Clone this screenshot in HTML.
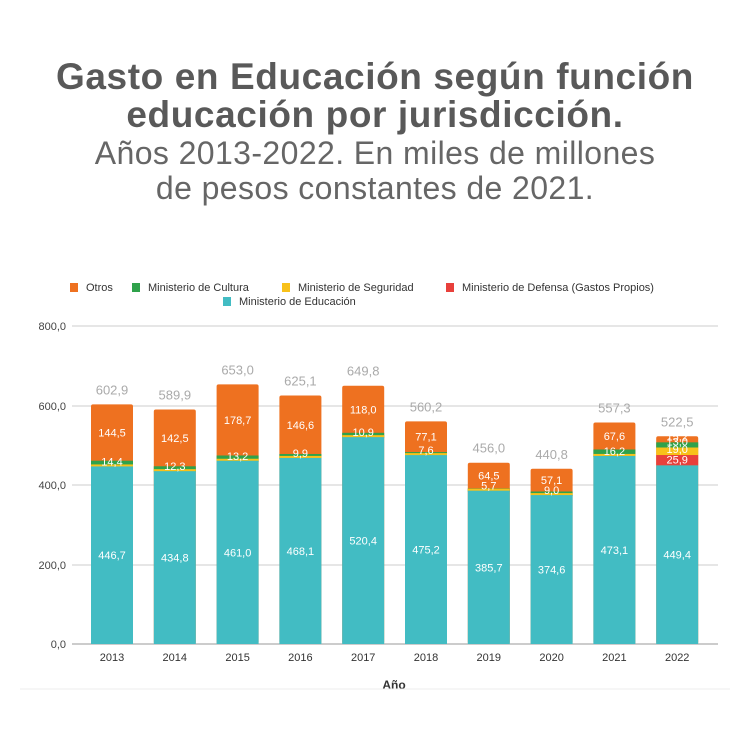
<!DOCTYPE html>
<html><head><meta charset="utf-8"><style>
body{margin:0;background:#fff;}
.t{position:absolute;left:0;width:750px;text-align:center;font-family:"Liberation Sans",sans-serif;color:#555;}
</style></head><body>
<div style="position:relative;width:750px;height:750px;overflow:hidden">
<div class="t" style="top:58px;font-size:37px;font-weight:bold;line-height:38px;letter-spacing:0.6px;color:#595959">Gasto en Educación según función<br>educación por jurisdicción.</div>
<div class="t" style="top:136px;font-size:32px;line-height:35px;letter-spacing:0.4px;color:#666">Años 2013-2022. En miles de millones<br>de pesos constantes de 2021.</div>
<svg width="750" height="750" style="position:absolute;left:0;top:0" font-family="Liberation Sans, sans-serif">
<g font-size="11" fill="#333">
<rect x="70" y="283" width="8" height="9" fill="#ee7120"/><text x="86" y="291">Otros</text>
<rect x="132" y="283" width="8" height="9" fill="#2fa24b"/><text x="148" y="291">Ministerio de Cultura</text>
<rect x="282" y="283" width="8" height="9" fill="#f8c11a"/><text x="298" y="291">Ministerio de Seguridad</text>
<rect x="446" y="283" width="8" height="9" fill="#e8403b"/><text x="462" y="291">Ministerio de Defensa (Gastos Propios)</text>
<rect x="223" y="297" width="8" height="9" fill="#42bcc3"/><text x="239" y="305">Ministerio de Educación</text>
</g>
<g stroke="#ddd" stroke-width="1.5">
<line x1="72" y1="326" x2="718" y2="326"/><line x1="72" y1="406" x2="718" y2="406"/>
<line x1="72" y1="485" x2="718" y2="485"/><line x1="72" y1="565" x2="718" y2="565"/>
<line x1="72" y1="644" x2="718" y2="644" stroke="#bbb"/>
</g>
<g font-size="11" fill="#444" text-anchor="end">
<text x="66" y="330">800,0</text><text x="66" y="410">600,0</text><text x="66" y="489">400,0</text><text x="66" y="569">200,0</text><text x="66" y="648">0,0</text>
</g>
<g id="bars"></g>
<text x="394" y="689" font-size="12" font-weight="bold" text-anchor="middle" fill="#333">Año</text>
<line x1="20" y1="689" x2="730" y2="689" stroke="#eee"/>
</svg>
<script>
var d=[[2013,446.7,14.4,144.5,602.9],[2014,434.8,12.3,142.5,589.9],[2015,461.0,13.2,178.7,653.0],[2016,468.1,9.9,146.6,625.1],[2017,520.4,10.9,118.0,649.8],[2018,475.2,7.6,77.1,560.2],[2019,385.7,5.7,64.5,456.0],[2020,374.6,9.0,57.1,440.8],[2021,473.1,16.2,67.6,557.3],[2022,449.4,13.0,15.2,522.5]];
var s=318/800,y0=644,h='';
function Y(v){return y0-v*s;}
function lab(x,y,t,c){return '<text x="'+x+'" y="'+y+'" font-size="11" fill="'+c+'" text-anchor="middle">'+t+'</text>';}
d.forEach(function(r,i){
var cx=112+i*62.8,x=cx-21,w=42;
h+='<text x="'+cx+'" y="661" font-size="11" fill="#333" text-anchor="middle">'+r[0]+'</text>';
h+='<text x="'+cx+'" y="'+(Y(r[4])-10)+'" font-size="13" fill="#aaa" text-anchor="middle">'+r[4].toFixed(1).replace('.',',')+'</text>';
if(r[0]==2022){
var a=Y(449.4),b=Y(475.3),c=Y(494.3),e=Y(507.3),f=Y(522.5);
h+='<rect x="'+x+'" y="'+f+'" width="'+w+'" height="'+(y0-f)+'" rx="2" fill="#ee7120"/>';
h+='<rect x="'+x+'" y="'+e+'" width="'+w+'" height="'+(c-e)+'" fill="#2fa24b"/>';
h+='<rect x="'+x+'" y="'+c+'" width="'+w+'" height="'+(b-c)+'" fill="#f8c11a"/>';
h+='<rect x="'+x+'" y="'+b+'" width="'+w+'" height="'+(a-b)+'" fill="#e8403b"/>';
h+='<rect x="'+x+'" y="'+a+'" width="'+w+'" height="'+(y0-a)+'" fill="#42bcc3"/>';
h+=lab(cx,a-2,'25,9','#fff')+lab(cx,b-2,'19,0','#fff')+lab(cx,c-2,'13,0','#fff')+lab(cx,e-2,'15,2','#fff');
}else{
var te=Y(r[1]),tc=Y(r[1]+r[2]),tt=Y(r[4]);
h+='<rect x="'+x+'" y="'+tt+'" width="'+w+'" height="'+(y0-tt)+'" rx="2" fill="#ee7120"/>';
h+='<rect x="'+x+'" y="'+tc+'" width="'+w+'" height="'+(te-tc+1)+'" fill="#2fa24b"/>';
h+='<rect x="'+x+'" y="'+(te-2)+'" width="'+w+'" height="3" fill="#f8c11a"/>';
h+='<rect x="'+x+'" y="'+te+'" width="'+w+'" height="'+(y0-te)+'" fill="#42bcc3"/>';
h+=lab(cx,te-1,r[2].toFixed(1).replace('.',','),'#fff');
h+=lab(cx,Math.min((tt+tc)/2+4,tc-7),r[3].toFixed(1).replace('.',','),'#fff');
}
h+=lab(cx,(Y(r[1])+y0)/2+4,r[1].toFixed(1).replace('.',','),'#fff');
});
document.getElementById('bars').innerHTML=h;
</script>
</div></body></html>
